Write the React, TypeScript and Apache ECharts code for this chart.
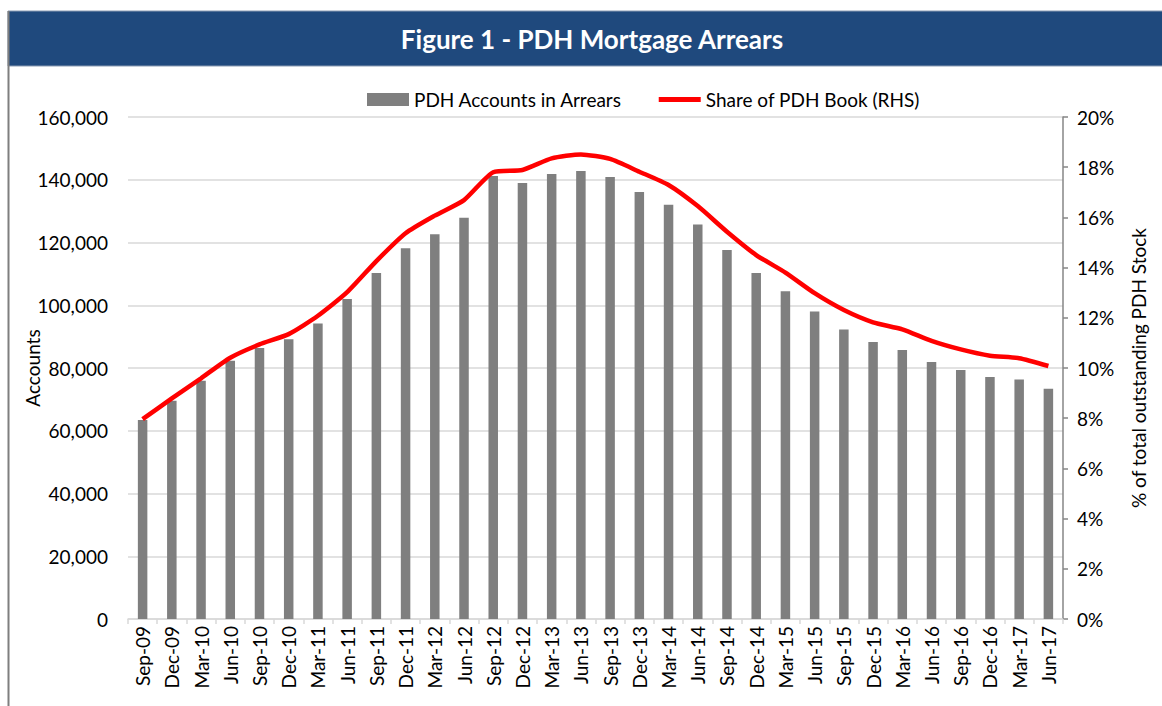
import React, { useEffect, useRef } from "react";
import * as echarts from "echarts";

const categories = [
  "Sep-09", "Dec-09", "Mar-10", "Jun-10", "Sep-10", "Dec-10", "Mar-11", "Jun-11",
  "Sep-11", "Dec-11", "Mar-12", "Jun-12", "Sep-12", "Dec-12", "Mar-13", "Jun-13",
  "Sep-13", "Dec-13", "Mar-14", "Jun-14", "Sep-14", "Dec-14", "Mar-15", "Jun-15",
  "Sep-15", "Dec-15", "Mar-16", "Jun-16", "Sep-16", "Dec-16", "Mar-17", "Jun-17",
];

const accountsInArrears = [
  63400, 69600, 75900, 82300, 86400, 89200, 94200, 102000,
  110300, 118200, 122600, 127900, 141200, 139000, 141800, 142800,
  140900, 136100, 132000, 125700, 117600, 110300, 104500, 98000,
  92300, 88300, 85700, 81900, 79400, 77100, 76300, 73400,
];

const shareOfBook = [
  7.96, 8.79, 9.59, 10.41, 10.94, 11.35, 12.08, 13.02,
  14.26, 15.37, 16.07, 16.69, 17.8, 17.89, 18.35, 18.51,
  18.33, 17.82, 17.29, 16.45, 15.43, 14.5, 13.8, 12.98,
  12.31, 11.82, 11.54, 11.08, 10.74, 10.49, 10.39, 10.08,
];

const titleText = "Figure 1 - PDH Mortgage Arrears";
const barName = "PDH Accounts in Arrears";
const lineName = "Share of PDH Book (RHS)";
const leftAxisName = "Accounts";
const rightAxisName = "% of total outstanding PDH Stock";

const FONT = "Lato, 'Noto Sans', sans-serif";

export default function App() {
  const ref = useRef<HTMLDivElement>(null);

  useEffect(() => {
    document.body.style.margin = "0";
    if (!ref.current) return;
    const chart = echarts.init(ref.current, null, { renderer: "svg" });
    chart.setOption({
      animation: false,
      backgroundColor: "#ffffff",
      textStyle: { fontFamily: FONT },
      graphic: [
        {
          type: "rect",
          shape: { x: 8, y: 11, width: 1160, height: 55 },
          style: { fill: "#1f497d", stroke: "#8a9bb3", lineWidth: 1 },
          z: 0,
        },
        {
          type: "line",
          shape: { x1: 8.5, y1: 11, x2: 8.5, y2: 706 },
          style: { stroke: "#7f7f7f", lineWidth: 2 },
        },
        {
          type: "text",
          x: 592,
          y: 39,
          style: {
            text: titleText,
            fill: "#ffffff",
            font: "bold 26px " + FONT,
            textAlign: "center",
            textVerticalAlign: "middle",
          },
        },
      ],
      legend: {
        left: 362,
        top: 85,
        itemWidth: 42,
        itemHeight: 13,
        itemGap: 34,
        textStyle: { fontSize: 19, color: "#000", fontFamily: FONT },
        data: [
          { name: barName, icon: "rect" },
          { name: lineName, itemStyle: { opacity: 0 }, lineStyle: { width: 5, color: "#ff0000" } },
        ],
      },
      grid: { left: 128, right: 99, top: 117, bottom: 87 },
      xAxis: {
        type: "category",
        data: categories,
        axisLine: { lineStyle: { color: "#d9d9d9", width: 1.5 } },
        axisTick: { show: true, length: 5, lineStyle: { color: "#d9d9d9", width: 1.5 } },
        axisLabel: { rotate: 90, color: "#000", fontSize: 19, margin: 7, fontFamily: FONT },
      },
      yAxis: [
        {
          type: "value",
          min: 0,
          max: 160000,
          interval: 20000,
          name: leftAxisName,
          nameLocation: "middle",
          nameRotate: 90,
          nameGap: 86,
          nameMoveOverlap: false,
          nameTextStyle: { fontSize: 19, color: "#000", fontFamily: FONT },
          axisLine: { show: false },
          axisTick: { show: false },
          axisLabel: {
            color: "#000",
            fontSize: 19,
            margin: 20,
            fontFamily: FONT,
            formatter: (v: number) => v.toLocaleString("en-US"),
          },
          splitLine: { lineStyle: { color: "#d9d9d9", width: 1.5 } },
        },
        {
          type: "value",
          min: 0,
          max: 20,
          interval: 2,
          position: "right",
          name: rightAxisName,
          nameLocation: "middle",
          nameRotate: 90,
          nameGap: 66,
          nameMoveOverlap: false,
          nameTextStyle: { fontSize: 19, color: "#000", fontFamily: FONT },
          axisLine: { show: true, lineStyle: { color: "#868686", width: 1.5 } },
          axisTick: { show: true, length: 5, lineStyle: { color: "#868686", width: 1.5 } },
          axisLabel: {
            color: "#000",
            fontSize: 19,
            margin: 14,
            fontFamily: FONT,
            formatter: "{value}%",
          },
          splitLine: { show: false },
        },
      ],
      series: [
        {
          name: barName,
          type: "bar",
          data: accountsInArrears,
          barWidth: 9.5,
          itemStyle: { color: "#7f7f7f" },
          yAxisIndex: 0,
        },
        {
          name: lineName,
          type: "line",
          data: shareOfBook,
          yAxisIndex: 1,
          symbol: "none",
          smooth: 0.2,
          lineStyle: { color: "#ff0000", width: 4.5 },
          itemStyle: { color: "#ff0000" },
          z: 5,
        },
      ],
    });
    return () => chart.dispose();
  }, []);

  return <div ref={ref} style={{ width: 1162, height: 706 }} />;
}
